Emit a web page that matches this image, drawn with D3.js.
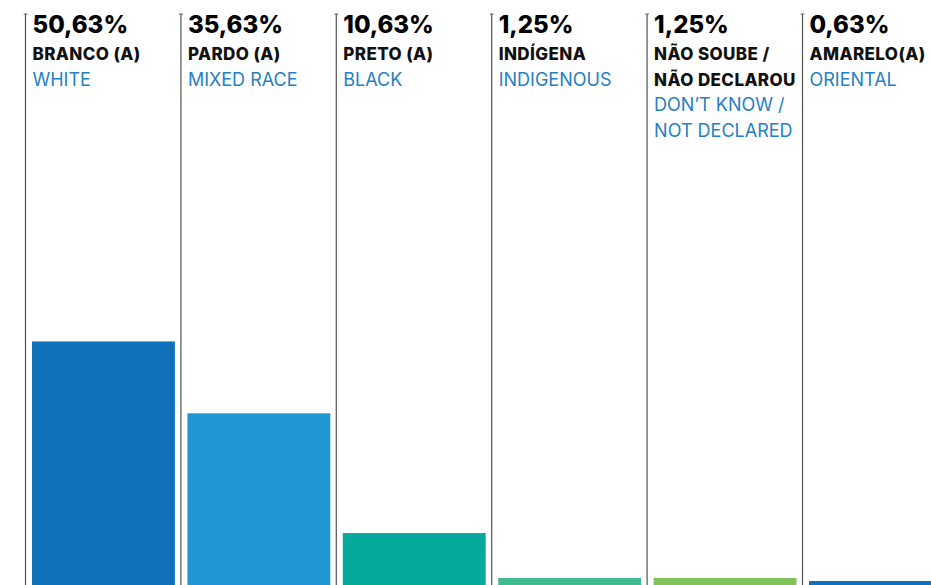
<!DOCTYPE html>
<html>
<head>
<meta charset="utf-8">
<script src="https://cdn.jsdelivr.net/npm/d3@7"></script>
<style>
  body { margin: 0; background: #fff; overflow: hidden; }
  svg { display: block; }
  .pct { font-family: Inter, "Noto Sans", sans-serif; font-weight: 800; font-size: 24px; fill: #000; }
  .pt { font-family: Inter, "Noto Sans", sans-serif; font-weight: 800; font-size: 17px; letter-spacing: 0.4px; fill: #111; }
  .en { font-family: Inter, "Noto Sans", sans-serif; font-weight: 400; font-size: 18px; fill: #2580c4; }
</style>
</head>
<body>
<svg class="chart"></svg>
<script>
// categorias e valores (%)
const categorias = ["branco", "pardo", "preto", "indigena", "nao_declarou", "amarelo"];
const valores = [50.63, 35.63, 10.63, 1.25, 1.25, 0.63];
const rotulos_pt = [["BRANCO (A)"], ["PARDO (A)"], ["PRETO (A)"], ["INDÍGENA"], ["NÃO SOUBE /", "NÃO DECLAROU"], ["AMARELO(A)"]];
const rotulos_en = [["WHITE"], ["MIXED RACE"], ["BLACK"], ["INDIGENOUS"], ["DON’T KNOW /", "NOT DECLARED"], ["ORIENTAL"]];
const cores = ["#1072ba", "#2196d3", "#05a99d", "#40bb8f", "#82c45c", "#1570bb"];

const w = 931;
const h = 585;

const svg = d3.select('svg.chart')
  .attr('width', w)
  .attr('height', h)
  .attr('viewBox', `0 0 ${w} ${h}`);

// formato brasileiro com vírgula
const fmt = v => new Intl.NumberFormat("pt-BR", { minimumFractionDigits: 2, maximumFractionDigits: 2 }).format(v) + "%";

const x = d3.scaleBand()
  .domain(categorias)
  .range([25.5, 25.5 + 155.4 * categorias.length]);

const y = d3.scaleLinear()
  .domain([0, 55])
  .range([584, 320.5]);

const dados = categorias.map((c, i) => ({
  cat: c, valor: valores[i], pt: rotulos_pt[i], en: rotulos_en[i], cor: cores[i]
}));

const col = svg.selectAll('g.col')
  .data(dados)
  .join('g')
  .attr('class', 'col')
  .attr('transform', d => `translate(${x(d.cat)},0)`);

// barras
col.append('rect')
  .attr('x', 6.5)
  .attr('y', d => y(d.valor))
  .attr('width', x.bandwidth() - 12.5)
  .attr('height', d => h + 10 - y(d.valor))
  .attr('fill', d => d.cor);

// linha vertical de cada coluna
col.append('line')
  .attr('x1', 0).attr('x2', 0)
  .attr('y1', 14).attr('y2', h)
  .attr('stroke', '#555')
  .attr('stroke-width', 1.2);

col.append('line')
  .attr('x1', -1.8).attr('x2', 1.8)
  .attr('y1', 14).attr('y2', 14)
  .attr('stroke', '#555')
  .attr('stroke-width', 1);

// textos
col.append('text')
  .attr('class', 'pct')
  .attr('x', 7)
  .attr('y', 33)
  .text(d => fmt(d.valor));

const lh = 25.7;

col.each(function(d) {
  const g = d3.select(this);
  d.pt.forEach((t, j) => {
    g.append('text').attr('class', 'pt').attr('x', 7).attr('y', 60 + j * lh).text(t);
  });
  d.en.forEach((t, j) => {
    g.append('text').attr('class', 'en').attr('x', 7).attr('y', 60 + (d.pt.length + j) * lh).text(t);
  });
});
</script>
</body>
</html>
